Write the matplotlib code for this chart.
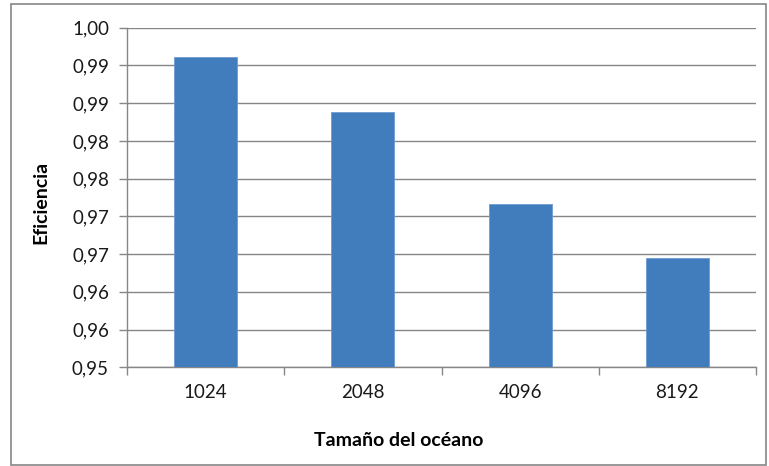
import matplotlib
matplotlib.use("Agg")
import matplotlib.pyplot as plt
from matplotlib.ticker import FixedLocator, FuncFormatter
from matplotlib.patches import Rectangle
from decimal import Decimal, ROUND_HALF_UP
import numpy as np

categories = ["1024", "2048", "4096", "8192"]
values = [0.9911, 0.9838, 0.9716, 0.9645]
y_ticks = [0.950, 0.955, 0.960, 0.965, 0.970, 0.975, 0.980, 0.985, 0.990, 0.995]

plt.rcParams['font.family'] = ['Lato', 'DejaVu Sans']


def fmt(v, p=None):
    d = Decimal(f"{v:.3f}").quantize(Decimal("0.01"), rounding=ROUND_HALF_UP)
    return str(d).replace(".", ",")


fig = plt.figure(figsize=(7.69, 4.66), dpi=100)
W, H = 769, 466
ax = fig.add_axes([127 / W, 1 - 367.3 / H, (756 - 127) / W, (367.3 - 27.7) / H])

x = np.arange(len(categories))
ax.bar(x, values, width=0.4, color="#417CBD", edgecolor="#6F9AD0", linewidth=0.6, zorder=3)

ax.set_xlim(-0.5, len(categories) - 0.5)
ax.set_ylim(0.95, 0.995)
ax.yaxis.set_major_locator(FixedLocator(y_ticks))
ax.yaxis.set_major_formatter(FuncFormatter(fmt))
ax.grid(axis="y", color="#868686", linewidth=1.0, zorder=0)
ax.set_axisbelow(True)

ax.set_xticks(x)
ax.set_xticklabels(categories)
ax.xaxis.set_minor_locator(FixedLocator(np.arange(-0.5, len(categories), 1.0)))
ax.tick_params(axis="x", which="major", length=0, pad=12, labelsize=13.5, labelcolor="#1a1a1a")
ax.tick_params(axis="x", which="minor", length=6, color="#868686", width=1)
ax.tick_params(axis="y", length=6, color="#868686", width=1, pad=7, labelsize=13.5, labelcolor="#1a1a1a")

for s in ["top", "right"]:
    ax.spines[s].set_visible(False)
for s in ["left", "bottom"]:
    ax.spines[s].set_color("#868686")
    ax.spines[s].set_linewidth(1)

fig.text(399 / W, 1 - 441 / H, "Tamaño del océano", ha="center", va="center",
         fontsize=14, fontweight="bold", color="#000000")
fig.text(41 / W, 1 - 202 / H, "Eficiencia", ha="center", va="center", rotation=90,
         fontsize=14, fontweight="bold", color="#000000")

fig.patches.append(Rectangle((11 / W, 1 - 465 / H), (766 - 11) / W, (465 - 4) / H,
                             transform=fig.transFigure, fill=False,
                             edgecolor="#868686", linewidth=1.2))

fig.savefig("out.png", dpi=100)
